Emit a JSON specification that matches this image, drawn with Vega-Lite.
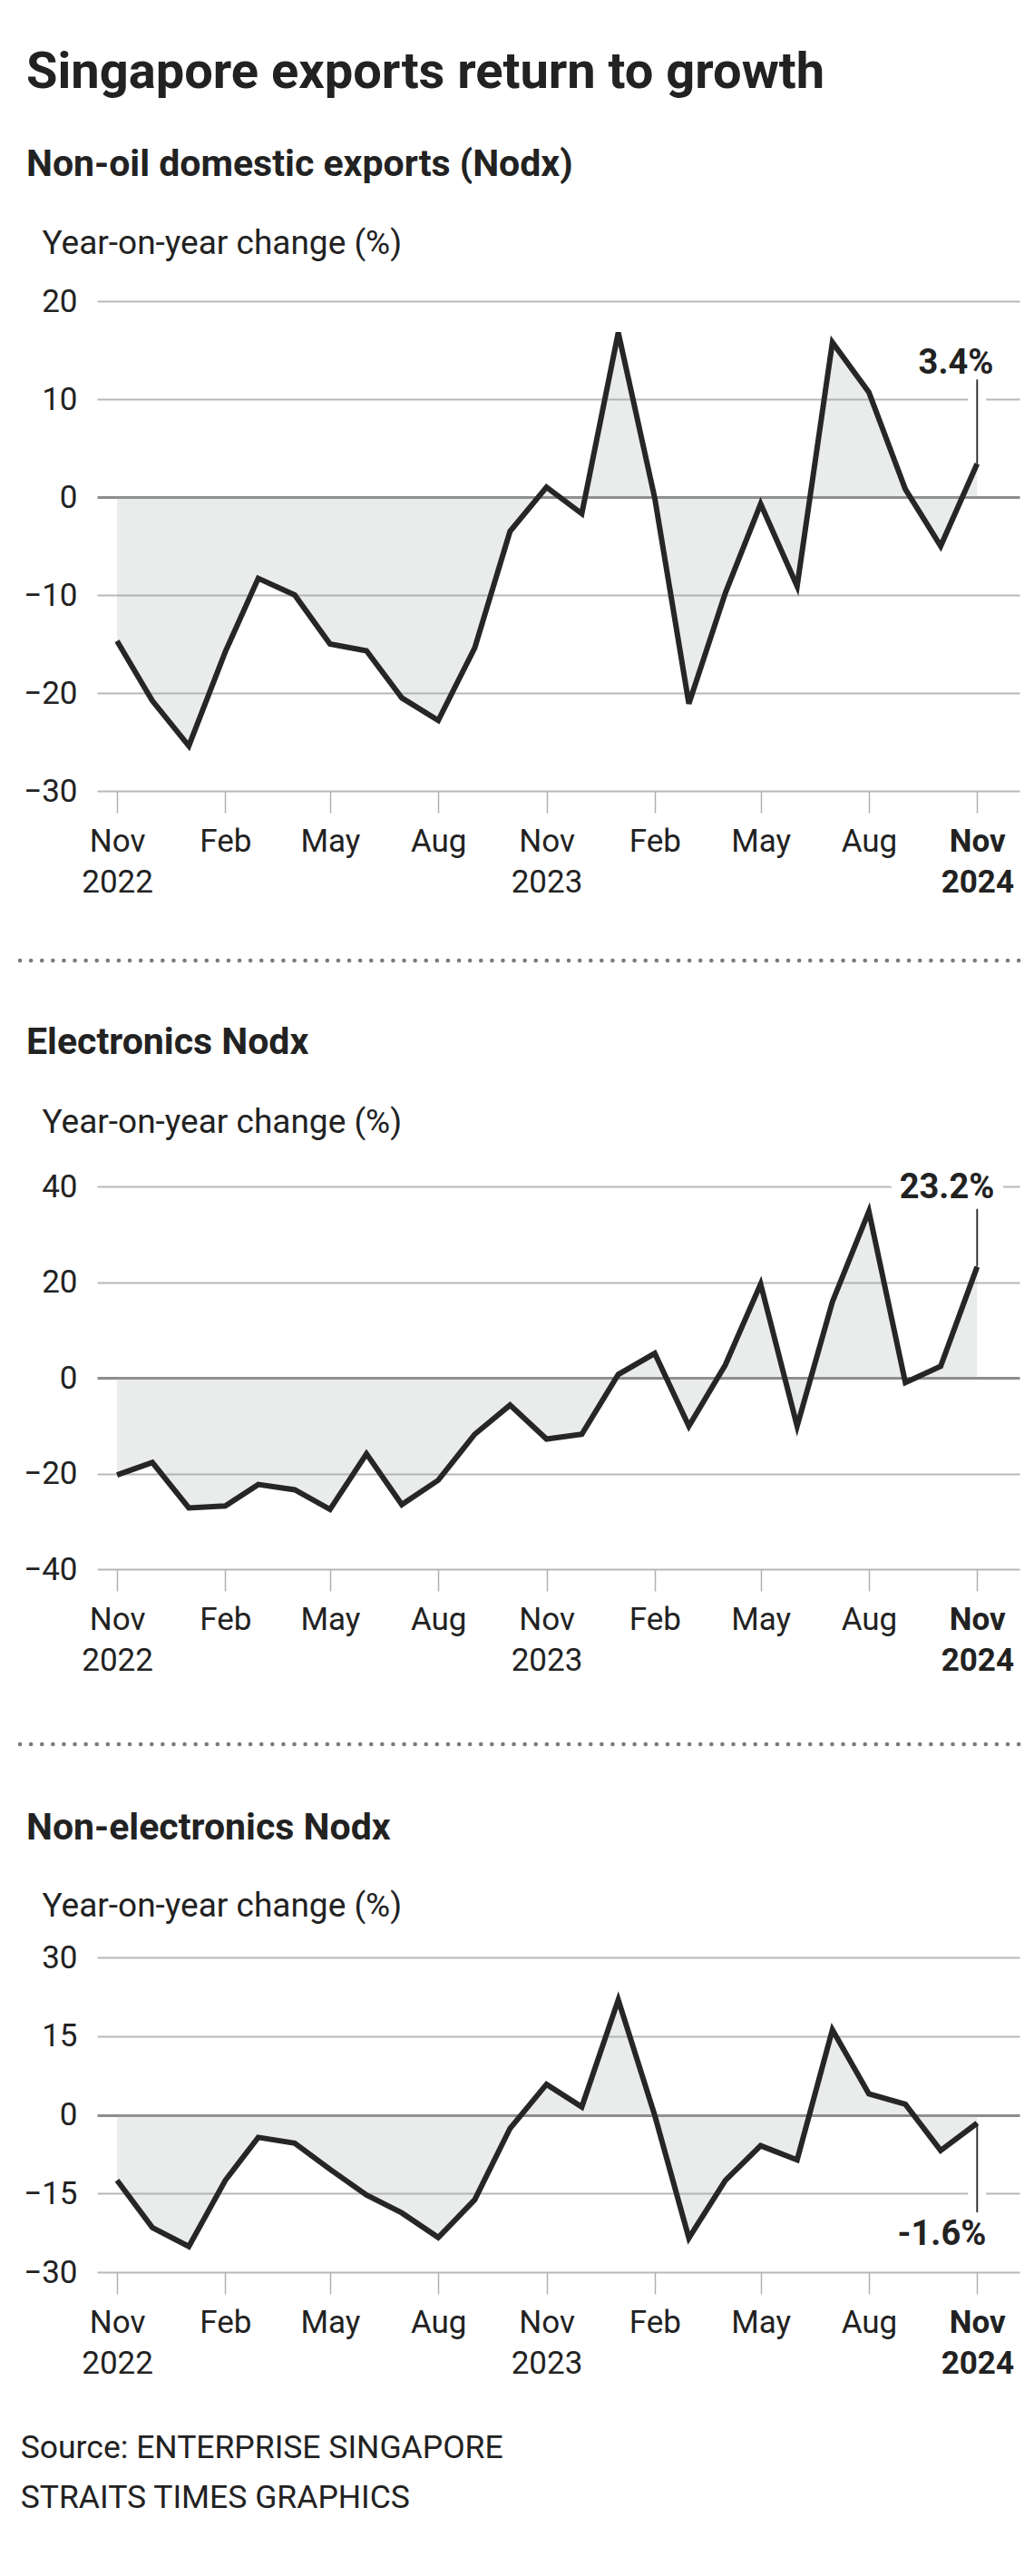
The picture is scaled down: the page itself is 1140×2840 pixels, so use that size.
{
  "$schema": "https://vega.github.io/schema/vega-lite/v6.json",
  "padding": {"left": 19, "top": 52, "right": 0, "bottom": 10},
  "background": "white",
  "config": {
    "font": "Roboto",
    "view": {"stroke": null},
    "concat": {"spacing": 28}
  },
  "title": {
    "text": ["Source: ENTERPRISE SINGAPORE", "STRAITS TIMES GRAPHICS"],
    "orient": "bottom", "anchor": "start", "fontSize": 35.5, "fontWeight": "normal",
    "lineHeight": 55, "offset": 59, "color": "#222222", "dx": 3
  },
  "datasets": {
    "nodx": [
      {"date": "2022-11-01", "v": -14.7}, {"date": "2022-12-01", "v": -20.8}, {"date": "2023-01-01", "v": -25.4},
      {"date": "2023-02-01", "v": -15.8}, {"date": "2023-03-01", "v": -8.3}, {"date": "2023-04-01", "v": -10.0},
      {"date": "2023-05-01", "v": -15.0}, {"date": "2023-06-01", "v": -15.7}, {"date": "2023-07-01", "v": -20.5},
      {"date": "2023-08-01", "v": -22.8}, {"date": "2023-09-01", "v": -15.4}, {"date": "2023-10-01", "v": -3.5},
      {"date": "2023-11-01", "v": 1.0}, {"date": "2023-12-01", "v": -1.7}, {"date": "2024-01-01", "v": 16.8},
      {"date": "2024-02-01", "v": -0.1}, {"date": "2024-03-01", "v": -21.1}, {"date": "2024-04-01", "v": -9.8},
      {"date": "2024-05-01", "v": -0.7}, {"date": "2024-06-01", "v": -9.1}, {"date": "2024-07-01", "v": 15.8},
      {"date": "2024-08-01", "v": 10.7}, {"date": "2024-09-01", "v": 0.8}, {"date": "2024-10-01", "v": -5.0},
      {"date": "2024-11-01", "v": 3.4}
    ],
    "elec": [
      {"date": "2022-11-01", "v": -20.3}, {"date": "2022-12-01", "v": -17.7}, {"date": "2023-01-01", "v": -27.2},
      {"date": "2023-02-01", "v": -26.8}, {"date": "2023-03-01", "v": -22.3}, {"date": "2023-04-01", "v": -23.4},
      {"date": "2023-05-01", "v": -27.5}, {"date": "2023-06-01", "v": -15.9}, {"date": "2023-07-01", "v": -26.5},
      {"date": "2023-08-01", "v": -21.4}, {"date": "2023-09-01", "v": -11.8}, {"date": "2023-10-01", "v": -5.7},
      {"date": "2023-11-01", "v": -12.8}, {"date": "2023-12-01", "v": -11.8}, {"date": "2024-01-01", "v": 0.7},
      {"date": "2024-02-01", "v": 5.1}, {"date": "2024-03-01", "v": -10.1}, {"date": "2024-04-01", "v": 2.7},
      {"date": "2024-05-01", "v": 19.6}, {"date": "2024-06-01", "v": -10.1}, {"date": "2024-07-01", "v": 15.9},
      {"date": "2024-08-01", "v": 34.8}, {"date": "2024-09-01", "v": -1.0}, {"date": "2024-10-01", "v": 2.4},
      {"date": "2024-11-01", "v": 23.2}
    ],
    "nonelec": [
      {"date": "2022-11-01", "v": -12.5}, {"date": "2022-12-01", "v": -21.5}, {"date": "2023-01-01", "v": -25.1},
      {"date": "2023-02-01", "v": -12.5}, {"date": "2023-03-01", "v": -4.3}, {"date": "2023-04-01", "v": -5.4},
      {"date": "2023-05-01", "v": -10.4}, {"date": "2023-06-01", "v": -15.3}, {"date": "2023-07-01", "v": -18.7},
      {"date": "2023-08-01", "v": -23.4}, {"date": "2023-09-01", "v": -16.2}, {"date": "2023-10-01", "v": -2.6},
      {"date": "2023-11-01", "v": 5.8}, {"date": "2023-12-01", "v": 1.5}, {"date": "2024-01-01", "v": 21.9},
      {"date": "2024-02-01", "v": -0.1}, {"date": "2024-03-01", "v": -23.5}, {"date": "2024-04-01", "v": -12.5},
      {"date": "2024-05-01", "v": -5.9}, {"date": "2024-06-01", "v": -8.6}, {"date": "2024-07-01", "v": 16.2},
      {"date": "2024-08-01", "v": 4.0}, {"date": "2024-09-01", "v": 2.0}, {"date": "2024-10-01", "v": -6.8},
      {"date": "2024-11-01", "v": -1.6}
    ],
    "last1": [{"date": "2024-11-01", "v": 3.4, "label": "3.4%"}],
    "last2": [{"date": "2024-11-01", "v": 23.2, "label": "23.2%"}],
    "last3": [{"date": "2024-11-01", "v": -1.6, "label": "-1.6%"}]
  },
  "vconcat": [
    {
      "width": 1017, "height": 540,
      "title": {
        "text": "Singapore exports return to growth", "subtitle": "Non-oil domestic exports (Nodx)",
        "anchor": "start", "frame": "group", "dx": -78, "fontSize": 56, "fontWeight": "bold", "color": "#222222",
        "subtitleFontSize": 41, "subtitleFontWeight": "bold", "subtitleColor": "#222222", "subtitlePadding": 53, "offset": 46
      },
      "data": {"name": "nodx"},
      "layer": [
        {
          "mark": {"type": "area", "color": "#9aa8a3", "opacity": 0.22},
          "encoding": {
            "x": {"field": "date", "type": "temporal",
              "scale": {"domain": [{"year": 2022, "month": 10, "date": 15, "utc": true}, {"year": 2024, "month": 12, "date": 7, "utc": true}]},
              "axis": {"values": [{"year": 2022, "month": 11, "date": 1, "utc": true}, {"year": 2023, "month": 2, "date": 1, "utc": true}, {"year": 2023, "month": 5, "date": 1, "utc": true}, {"year": 2023, "month": 8, "date": 1, "utc": true}, {"year": 2023, "month": 11, "date": 1, "utc": true}, {"year": 2024, "month": 2, "date": 1, "utc": true}, {"year": 2024, "month": 5, "date": 1, "utc": true}, {"year": 2024, "month": 8, "date": 1, "utc": true}, {"year": 2024, "month": 11, "date": 1, "utc": true}],
                "labelExpr": "utcmonth(datum.value) == 10 ? [utcFormat(datum.value, '%b'), utcFormat(datum.value, '%Y')] : utcFormat(datum.value, '%b')",
                "labelFontWeight": {"condition": {"test": "utcyear(datum.value) == 2024 && utcmonth(datum.value) == 10", "value": "bold"}, "value": "normal"},
                "title": null, "grid": false, "domain": false, "tickSize": 24, "tickColor": "#b0b0b0", "tickWidth": 1.5,
                "labelFontSize": 35, "labelColor": "#222222", "labelPadding": 14, "labelLineHeight": 45, "labelFlush": false, "labelOverlap": false}},
            "y": {"field": "v", "type": "quantitative",
              "scale": {"domain": [-30, 20], "nice": false, "zero": false},
              "axis": {"values": [-30, -20, -10, 0, 10, 20], "title": "Year-on-year change (%)", "titleAngle": 0, "titleAlign": "left", "titleBaseline": "alphabetic",
                "titleX": -61, "titleY": -53, "titleFontSize": 37, "titleFontWeight": "normal", "titleColor": "#222222",
                "ticks": false, "domain": false, "labelFontSize": 35, "labelColor": "#222222", "labelPadding": 22,
                "gridColor": {"condition": {"test": "datum.value === 0", "value": "#8c8c8c"}, "value": "#b8b8b8"},
                "gridWidth": {"condition": {"test": "datum.value === 0", "value": 2.8}, "value": 1.8}}},
            "y2": {"datum": 0}
          }
        },
        {
          "mark": {"type": "line", "color": "#262626", "strokeWidth": 6, "strokeJoin": "miter", "strokeMiterLimit": 4},
          "encoding": {"x": {"field": "date", "type": "temporal"}, "y": {"field": "v", "type": "quantitative"}}
        },
        {
          "data": {"name": "last1"},
          "mark": {"type": "rule", "color": "white", "strokeWidth": 20},
          "encoding": {"x": {"field": "date", "type": "temporal"}, "y": {"datum": 9}, "y2": {"datum": 11}}
        },
        {
          "data": {"name": "last1"},
          "mark": {"type": "rule", "color": "#222222", "strokeWidth": 1.8},
          "encoding": {"x": {"field": "date", "type": "temporal"}, "y": {"field": "v", "type": "quantitative"}, "y2": {"datum": 12.0}}
        },
        {
          "data": {"name": "last1"},
          "mark": {"type": "text", "align": "right", "baseline": "alphabetic", "dx": 18, "fontSize": 38, "fontWeight": "bold", "color": "#222222"},
          "encoding": {"x": {"field": "date", "type": "temporal"}, "y": {"datum": 12.6}, "text": {"field": "label"}}
        }
      ]
    },
    {
      "width": 1017, "height": 83,
      "data": {"values": [{}]},
      "mark": {"type": "rule", "color": "#7a7a7a", "strokeWidth": 4.5, "strokeDash": [0.1, 12], "strokeCap": "round"},
      "encoding": {
        "x": {"datum": -0.0836, "type": "quantitative", "scale": {"domain": [0, 1]}, "axis": null},
        "x2": {"datum": 1.002},
        "y": {"datum": 0.506, "type": "quantitative", "scale": {"domain": [0, 1]}, "axis": null}
      }
    },
    {
      "width": 1017, "height": 422,
      "title": {"text": "Electronics Nodx", "anchor": "start", "frame": "group", "dx": -78, "fontSize": 41, "fontWeight": "bold", "color": "#222222", "offset": 47},
      "data": {"name": "elec"},
      "layer": [
        {
          "mark": {"type": "area", "color": "#9aa8a3", "opacity": 0.22},
          "encoding": {
            "x": {"field": "date", "type": "temporal",
              "scale": {"domain": [{"year": 2022, "month": 10, "date": 15, "utc": true}, {"year": 2024, "month": 12, "date": 7, "utc": true}]},
              "axis": {"values": [{"year": 2022, "month": 11, "date": 1, "utc": true}, {"year": 2023, "month": 2, "date": 1, "utc": true}, {"year": 2023, "month": 5, "date": 1, "utc": true}, {"year": 2023, "month": 8, "date": 1, "utc": true}, {"year": 2023, "month": 11, "date": 1, "utc": true}, {"year": 2024, "month": 2, "date": 1, "utc": true}, {"year": 2024, "month": 5, "date": 1, "utc": true}, {"year": 2024, "month": 8, "date": 1, "utc": true}, {"year": 2024, "month": 11, "date": 1, "utc": true}],
                "labelExpr": "utcmonth(datum.value) == 10 ? [utcFormat(datum.value, '%b'), utcFormat(datum.value, '%Y')] : utcFormat(datum.value, '%b')",
                "labelFontWeight": {"condition": {"test": "utcyear(datum.value) == 2024 && utcmonth(datum.value) == 10", "value": "bold"}, "value": "normal"},
                "title": null, "grid": false, "domain": false, "tickSize": 24, "tickColor": "#b0b0b0", "tickWidth": 1.5,
                "labelFontSize": 35, "labelColor": "#222222", "labelPadding": 14, "labelLineHeight": 45, "labelFlush": false, "labelOverlap": false}},
            "y": {"field": "v", "type": "quantitative",
              "scale": {"domain": [-40, 40], "nice": false, "zero": false},
              "axis": {"values": [-40, -20, 0, 20, 40], "title": "Year-on-year change (%)", "titleAngle": 0, "titleAlign": "left", "titleBaseline": "alphabetic",
                "titleX": -61, "titleY": -60, "titleFontSize": 37, "titleFontWeight": "normal", "titleColor": "#222222",
                "ticks": false, "domain": false, "labelFontSize": 35, "labelColor": "#222222", "labelPadding": 22,
                "gridColor": {"condition": {"test": "datum.value === 0", "value": "#8c8c8c"}, "value": "#b8b8b8"},
                "gridWidth": {"condition": {"test": "datum.value === 0", "value": 2.8}, "value": 1.8}}},
            "y2": {"datum": 0}
          }
        },
        {
          "mark": {"type": "line", "color": "#262626", "strokeWidth": 6, "strokeJoin": "miter", "strokeMiterLimit": 4},
          "encoding": {"x": {"field": "date", "type": "temporal"}, "y": {"field": "v", "type": "quantitative"}}
        },
        {
          "data": {"name": "last2"},
          "mark": {"type": "rule", "color": "#222222", "strokeWidth": 1.8},
          "encoding": {"x": {"field": "date", "type": "temporal"}, "y": {"field": "v", "type": "quantitative"}, "y2": {"datum": 35.3}}
        },
        {
          "data": {"name": "last2"},
          "mark": {"type": "text", "align": "right", "baseline": "alphabetic", "dx": 19, "fontSize": 38, "fontWeight": "bold", "color": "white", "stroke": "white", "strokeWidth": 24, "strokeJoin": "round"},
          "encoding": {"x": {"field": "date", "type": "temporal"}, "y": {"datum": 37.5}, "text": {"field": "label"}}
        },
        {
          "data": {"name": "last2"},
          "mark": {"type": "text", "align": "right", "baseline": "alphabetic", "dx": 19, "fontSize": 38, "fontWeight": "bold", "color": "#222222"},
          "encoding": {"x": {"field": "date", "type": "temporal"}, "y": {"datum": 37.5}, "text": {"field": "label"}}
        }
      ]
    },
    {
      "width": 1017, "height": 91,
      "data": {"values": [{}]},
      "mark": {"type": "rule", "color": "#7a7a7a", "strokeWidth": 4.5, "strokeDash": [0.1, 12], "strokeCap": "round"},
      "encoding": {
        "x": {"datum": -0.0836, "type": "quantitative", "scale": {"domain": [0, 1]}, "axis": null},
        "x2": {"datum": 1.002},
        "y": {"datum": 0.484, "type": "quantitative", "scale": {"domain": [0, 1]}, "axis": null}
      }
    },
    {
      "width": 1017, "height": 347,
      "title": {"text": "Non-electronics Nodx", "anchor": "start", "frame": "group", "dx": -78, "fontSize": 41, "fontWeight": "bold", "color": "#222222", "offset": 45},
      "data": {"name": "nonelec"},
      "layer": [
        {
          "mark": {"type": "area", "color": "#9aa8a3", "opacity": 0.22},
          "encoding": {
            "x": {"field": "date", "type": "temporal",
              "scale": {"domain": [{"year": 2022, "month": 10, "date": 15, "utc": true}, {"year": 2024, "month": 12, "date": 7, "utc": true}]},
              "axis": {"values": [{"year": 2022, "month": 11, "date": 1, "utc": true}, {"year": 2023, "month": 2, "date": 1, "utc": true}, {"year": 2023, "month": 5, "date": 1, "utc": true}, {"year": 2023, "month": 8, "date": 1, "utc": true}, {"year": 2023, "month": 11, "date": 1, "utc": true}, {"year": 2024, "month": 2, "date": 1, "utc": true}, {"year": 2024, "month": 5, "date": 1, "utc": true}, {"year": 2024, "month": 8, "date": 1, "utc": true}, {"year": 2024, "month": 11, "date": 1, "utc": true}],
                "labelExpr": "utcmonth(datum.value) == 10 ? [utcFormat(datum.value, '%b'), utcFormat(datum.value, '%Y')] : utcFormat(datum.value, '%b')",
                "labelFontWeight": {"condition": {"test": "utcyear(datum.value) == 2024 && utcmonth(datum.value) == 10", "value": "bold"}, "value": "normal"},
                "title": null, "grid": false, "domain": false, "tickSize": 24, "tickColor": "#b0b0b0", "tickWidth": 1.5,
                "labelFontSize": 35, "labelColor": "#222222", "labelPadding": 14, "labelLineHeight": 45, "labelFlush": false, "labelOverlap": false}},
            "y": {"field": "v", "type": "quantitative",
              "scale": {"domain": [-30, 30], "nice": false, "zero": false},
              "axis": {"values": [-30, -15, 0, 15, 30], "title": "Year-on-year change (%)", "titleAngle": 0, "titleAlign": "left", "titleBaseline": "alphabetic",
                "titleX": -61, "titleY": -46, "titleFontSize": 37, "titleFontWeight": "normal", "titleColor": "#222222",
                "ticks": false, "domain": false, "labelFontSize": 35, "labelColor": "#222222", "labelPadding": 22,
                "gridColor": {"condition": {"test": "datum.value === 0", "value": "#8c8c8c"}, "value": "#b8b8b8"},
                "gridWidth": {"condition": {"test": "datum.value === 0", "value": 2.8}, "value": 1.8}}},
            "y2": {"datum": 0}
          }
        },
        {
          "mark": {"type": "line", "color": "#262626", "strokeWidth": 6, "strokeJoin": "miter", "strokeMiterLimit": 4},
          "encoding": {"x": {"field": "date", "type": "temporal"}, "y": {"field": "v", "type": "quantitative"}}
        },
        {
          "data": {"name": "last3"},
          "mark": {"type": "rule", "color": "white", "strokeWidth": 20},
          "encoding": {"x": {"field": "date", "type": "temporal"}, "y": {"datum": -13.6}, "y2": {"datum": -16.4}}
        },
        {
          "data": {"name": "last3"},
          "mark": {"type": "rule", "color": "#222222", "strokeWidth": 1.8},
          "encoding": {"x": {"field": "date", "type": "temporal"}, "y": {"field": "v", "type": "quantitative"}, "y2": {"datum": -18.6}}
        },
        {
          "data": {"name": "last3"},
          "mark": {"type": "text", "align": "right", "baseline": "alphabetic", "dx": 10, "fontSize": 38, "fontWeight": "bold", "color": "#222222"},
          "encoding": {"x": {"field": "date", "type": "temporal"}, "y": {"datum": -24.8}, "text": {"field": "label"}}
        }
      ]
    }
  ]
}
